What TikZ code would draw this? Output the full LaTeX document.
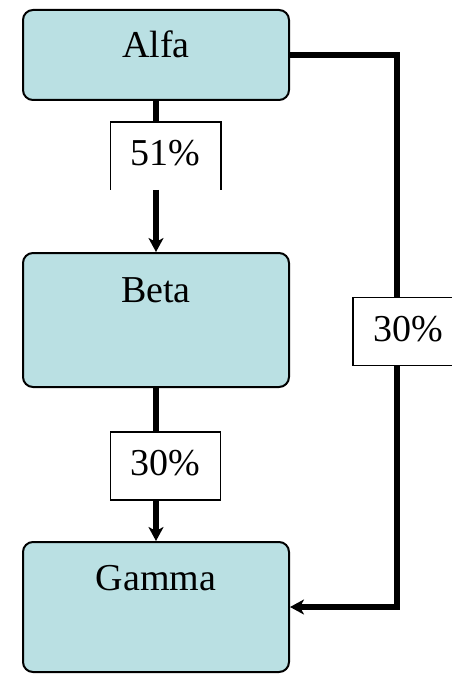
\documentclass[tikz,border=0pt]{standalone}
\usepackage{fontspec}
\setmainfont{Liberation Serif}
\usetikzlibrary{arrows.meta}
\definecolor{blockfill}{RGB}{186,224,227}
\tikzset{
  block/.style={draw, line width=2pt, fill=blockfill, rounded corners=10pt, minimum width=266pt, inner sep=0pt},
  share/.style={fill=white, line width=1.5pt, minimum width=110pt, minimum height=68pt, inner sep=0pt, text depth=6pt},
  flow/.style={line width=5.5pt},
  flowarrow/.style={flow, -{Stealth[length=14pt,width=15pt,inset=4pt]}}
}

\begin{document}
\begin{tikzpicture}[x=1pt, y=-1pt, font=\fontsize{38}{40}\selectfont]
        \clip (0,0) rectangle (452,674);
        \node[block, minimum height=90pt, label={[anchor=center,yshift=-35pt]north:Alfa}] (alfa) at (156,55) {};
        \node[block, minimum height=134pt, label={[anchor=center,yshift=-38pt]north:Beta}] (beta) at (156,320) {};
        \node[block, minimum height=130pt, label={[anchor=center,yshift=-37pt]north:Gamma}] (gamma) at (156,607) {};
        \node[share, minimum width=109pt, minimum height=66pt] (lbla) at (165.5,156) {51\%};
        \draw[line width=1.5pt] (lbla.south west) -- (lbla.north west) -- (lbla.north east) -- (lbla.south east);
        \node[share, draw] (lblb) at (165.5,466) {30\%};
        \node[share, draw] (lblc) at (408,331.5) {30\%};
        \draw[flow] (alfa.south) -- (alfa.south |- lbla.north);
        \draw[flowarrow] (alfa.south |- lbla.south) -- (beta.north);
        \draw[flow] (beta.south) -- (beta.south |- lblb.north);
        \draw[flowarrow] (beta.south |- lblb.south) -- (gamma.north);
        \coordinate (corner) at (397,607);
        \draw[flow] (alfa.east) -| (corner |- lblc.north);
        \draw[flowarrow] (corner |- lblc.south) |- (gamma.east);
    \end{tikzpicture}
\end{document}
